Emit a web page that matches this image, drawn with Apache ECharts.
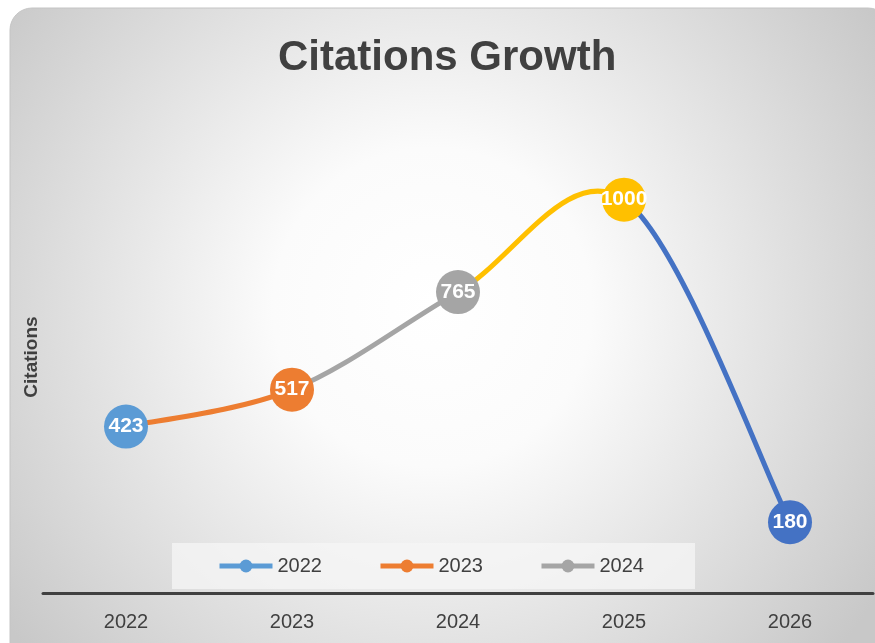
<!DOCTYPE html>
<html><head><meta charset="utf-8">
<script src="https://cdn.jsdelivr.net/npm/echarts@6/dist/echarts.min.js"></script>
<style>html,body{margin:0;padding:0;background:#fff}#c{width:875px;height:643px}</style>
</head><body><div id="c"></div>
<script>
var categories = ['2022', '2023', '2024', '2025', '2026'];
var citations = [423, 517, 765, 1000, 180];
var pointColors = ['#5B9BD5', '#ED7D31', '#A5A5A5', '#FFC000', '#4472C4'];
var legendNames = ['2022', '2023', '2024'];
var legendColors = ['#5B9BD5', '#ED7D31', '#A5A5A5'];

var chart = echarts.init(document.getElementById('c'));
var FONT = '"Liberation Sans", Arial, sans-serif';

// Excel-style (Catmull-Rom) smoothed segments, each coloured like its end point
function renderSegment(params, api) {
  var i = params.dataIndex;
  var n = citations.length;
  if (i >= n - 1) return null;
  function P(k) { k = Math.max(0, Math.min(n - 1, k)); return api.coord([k, citations[k]]); }
  var p0 = P(i - 1), p1 = P(i), p2 = P(i + 1), p3 = P(i + 2);
  var t = 1 / 6;
  return {
    type: 'bezierCurve',
    shape: {
      x1: p1[0], y1: p1[1], x2: p2[0], y2: p2[1],
      cpx1: p1[0] + (p2[0] - p0[0]) * t, cpy1: p1[1] + (p2[1] - p0[1]) * t,
      cpx2: p2[0] - (p3[0] - p1[0]) * t, cpy2: p2[1] - (p3[1] - p1[1]) * t
    },
    style: { stroke: pointColors[i + 1], lineWidth: 5, fill: null, lineCap: 'round' }
  };
}

var series = [
  {
    type: 'custom', name: 'line', z: 2, silent: true,
    data: citations.map(function (v, i) { return [i, v]; }),
    encode: { x: 0, y: 1 },
    renderItem: renderSegment
  },
  {
    type: 'scatter', name: 'points', z: 3,
    data: citations.map(function (v, i) { return { value: v, itemStyle: { color: pointColors[i], opacity: 1 } }; }),
    symbolSize: 44, itemStyle: { opacity: 1 },
    label: { show: true, position: 'inside', color: '#fff', fontWeight: 'bold', fontSize: 21, fontFamily: FONT }
  }
];
legendNames.forEach(function (n, i) {
  series.push({
    type: 'line', name: n, data: [], color: legendColors[i],
    symbol: 'circle', symbolSize: 12, lineStyle: { width: 5, color: legendColors[i] }, itemStyle: { color: legendColors[i] }
  });
});

chart.setOption({
  animation: false,
  textStyle: { fontFamily: FONT },
  graphic: [
    {
      type: 'rect', z: -10,
      shape: { x: 10, y: 8, width: 880, height: 680, r: 22 },
      style: {
        fill: { type: 'radial', x: 0.48, y: 0.44, r: 0.78, colorStops: [
          { offset: 0, color: '#ffffff' }, { offset: 0.3, color: '#fbfbfb' }, { offset: 1, color: '#c8c8c8' }] },
        stroke: '#c4c4c4', lineWidth: 1
      }
    },
    {
      type: 'rect', z: -5,
      shape: { x: 172, y: 543, width: 523, height: 46 },
      style: { fill: 'rgba(245,245,245,0.75)' }
    }
  ],
  title: {
    text: 'Citations Growth', left: 273, top: 32,
    textStyle: { fontSize: 42, fontWeight: 'bold', color: '#404040', fontFamily: FONT }
  },
  legend: {
    data: legendNames, left: 212, top: 551, itemGap: 56, itemWidth: 53, itemHeight: 16,
    lineStyle: { width: 5 },
    textStyle: { fontSize: 20, color: '#404040', fontFamily: FONT }
  },
  grid: { left: 43, right: 2, top: 121, bottom: 50 },
  xAxis: {
    type: 'category', data: categories, boundaryGap: true,
    axisLine: { lineStyle: { color: '#404040', width: 3 } },
    axisTick: { show: false },
    axisLabel: { fontSize: 20, color: '#404040', margin: 19, fontFamily: FONT }
  },
  yAxis: {
    type: 'value', min: 0, max: 1200,
    axisLine: { show: false }, axisTick: { show: false }, axisLabel: { show: false }, splitLine: { show: false },
    name: 'Citations', nameLocation: 'middle', nameGap: 2, nameRotate: 90,
    nameTextStyle: { fontSize: 19, fontWeight: 'bold', color: '#404040', fontFamily: FONT }
  },
  series: series
});
</script></body></html>
